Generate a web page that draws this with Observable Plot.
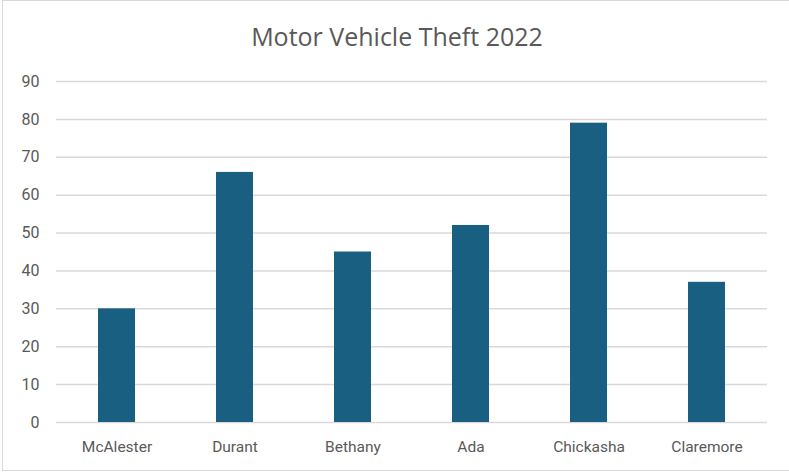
<!DOCTYPE html>
<html>
<head>
<meta charset="utf-8">
<script src="https://cdn.jsdelivr.net/npm/d3@7"></script>
<script src="https://cdn.jsdelivr.net/npm/@observablehq/plot@0.6"></script>
<style>
  html, body { margin: 0; padding: 0; background: #fff; }
  #wrap { position: relative; width: 789px; height: 476px; overflow: hidden; }
  #frame { position: absolute; left: 2px; top: 0px; width: 800px; height: 471px; border: 1.5px solid #d9d9d9; box-sizing: border-box; }
  #title { position: absolute; left: 0; width: 794px; top: 18px; text-align: center; font-family: "Open Sans", sans-serif; font-size: 25px; color: #595959; line-height: 36px; }
  #chart { position: absolute; left: 0; top: 60px; }
</style>
</head>
<body>
<div id="wrap">
  <div id="frame"></div>
  <div id="title">Motor Vehicle Theft 2022</div>
  <div id="chart"></div>
</div>
<script>
const cities = ["McAlester", "Durant", "Bethany", "Ada", "Chickasha", "Claremore"];
const thefts = [30, 66, 45, 52, 79, 37];
const yTicks = [0, 10, 20, 30, 40, 50, 60, 70, 80, 90];

const data = cities.map((c, i) => ({city: c, value: thefts[i]}));

const plot = Plot.plot({
  width: 789,
  height: 416,
  marginLeft: 56,
  marginRight: 22,
  marginTop: 21,
  marginBottom: 54,
  style: {fontFamily: "Roboto, sans-serif", fontSize: "15px", color: "#595959", background: "transparent"},
  x: {domain: cities, paddingInner: 0.69, paddingOuter: 0.345, label: null},
  y: {domain: [0, 90], label: null},
  marks: [
    Plot.gridY(yTicks, {stroke: "#d9d9d9", strokeOpacity: 1, strokeWidth: 1.5}),
    Plot.barY(data, {x: "city", y: "value", fill: "#185f81"}),
    Plot.axisX({tickSize: 0, tickPadding: 18, fontSize: 15.5, fill: "#595959"}),
    Plot.axisY(yTicks, {tickSize: 0, tickPadding: 17, fontSize: 16, fill: "#595959"})
  ]
});
document.getElementById("chart").appendChild(plot);
</script>
</body>
</html>
